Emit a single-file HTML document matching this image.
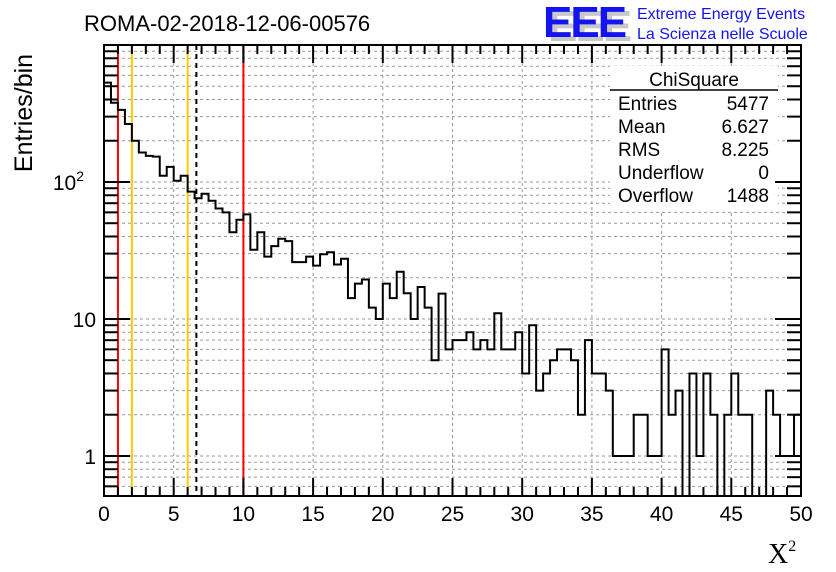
<!DOCTYPE html>
<html><head><meta charset="utf-8"><style>
body{margin:0;background:#fff;}
svg{display:block;font-family:"Liberation Sans",sans-serif;}
</style></head><body>
<svg id="chart" width="836" height="572" viewBox="0 0 836 572" xmlns="http://www.w3.org/2000/svg">
<rect width="836" height="572" fill="#fff"/>
<g id="grid"></g>
<g id="vlines"></g>
<path id="hist" fill="none" stroke="#000" stroke-width="2"/>
<g id="stats">
<rect x="610" y="66" width="168" height="144" fill="#fff"/>
<text x="694" y="86" font-size="19" text-anchor="middle">ChiSquare</text>
<line x1="610" y1="90" x2="778" y2="90" stroke="#000" stroke-width="1.5"/>
<g font-size="19">
<text x="618" y="110">Entries</text><text x="769" y="110" text-anchor="end">5477</text>
<text x="618" y="133">Mean</text><text x="769" y="133" text-anchor="end">6.627</text>
<text x="618" y="156">RMS</text><text x="769" y="156" text-anchor="end">8.225</text>
<text x="618" y="179">Underflow</text><text x="769" y="179" text-anchor="end">0</text>
<text x="618" y="202">Overflow</text><text x="769" y="202" text-anchor="end">1488</text>
</g></g>
<g id="axes"></g>
<rect x="104" y="45" width="697" height="451" fill="none" stroke="#000" stroke-width="2"/>
<text x="84" y="31" font-size="22">ROMA-02-2018-12-06-00576</text>
<g>
<text x="548" y="41" font-size="44" font-weight="bold" fill="#c8c8c8" letter-spacing="-2">EEE</text>
<text x="543" y="37" font-size="44" font-weight="bold" fill="#1414f0" letter-spacing="-2">EEE</text>
<text x="637" y="19" font-size="16" fill="#1414f0">Extreme Energy Events</text>
<text x="637" y="39" font-size="16" fill="#1414f0">La Scienza nelle Scuole</text>
</g>
<text transform="translate(32,113) rotate(-90)" font-size="25" text-anchor="middle">Entries/bin</text>
<text x="768" y="563" font-size="28" font-family="'Liberation Serif',serif">X<tspan font-size="16" dy="-12">2</tspan></text>
</svg>
<script>
const counts = [531,379,336,265,200,164,155,153,111,129,102,111,85,76,82,73,64,60,43,53,
58,32,43,28.5,34,38.5,37,26,26,28.5,24.5,29.7,30.7,25,27.5,14.2,18.1,19.4,12.1,10,
18.1,14.2,22.1,15.4,10,17.1,12.1,5,15.3,6,7,7,8,6,7,6,11,6,6,8,
4,9,3,4,5,6,6,5,2,7,4,4,3,1,1,1,2,2,1,1,
6,2,3,0,4,1,4,2,0,2,4,2,2,0,0,3,2,1,1,2];
const binWidth = 0.5;
const xTicks = [0,5,10,15,20,25,30,35,40,45,50];
const yTickValues = [1,10,100];
const yTickLabels = ["1","10","10^2"];
const cutValues = [1,10];
const cutYellow = [2,6];
const meanValue = 6.627;

const X0=104,X1=801,Y0=496,Y1=45,XMIN=0,XMAX=50,YMIN=0.51,YMAX=1000;
const sx=v=>X0+(v-XMIN)/(XMAX-XMIN)*(X1-X0);
const sy=v=>{ if(v<=0) return Y0; return Y0-(Math.log10(v)-Math.log10(YMIN))/(Math.log10(YMAX)-Math.log10(YMIN))*(Y0-Y1);};
const NS="http://www.w3.org/2000/svg";
function mk(tag,attrs,parent){const e=document.createElementNS(NS,tag);for(const k in attrs)e.setAttribute(k,attrs[k]);parent.appendChild(e);return e;}
const grid=document.getElementById('grid'), axes=document.getElementById('axes'), vl=document.getElementById('vlines');

for(const t of xTicks){ if(t===XMIN||t===XMAX) continue;
  const l=mk('line',{x1:sx(t),x2:sx(t),y1:Y1,y2:Y0,stroke:'#999','stroke-dasharray':'3,3'},grid);
   }
for(let d=0.1; d<=1000; d*=10){ for(let m=1;m<10;m++){ const v=Math.round(d*m*1000)/1000; if(v<YMIN||v>=YMAX) continue;
  const y=sy(v);
  const l=mk('line',{x1:X0,x2:X1,y1:y,y2:y,stroke:'#999','stroke-dasharray':'3,3'},grid);
   
  const major=(m===1); const len=major?26:14;
  const t1=mk('line',{x1:X0,x2:X0+len,y1:y,y2:y,stroke:'#000','stroke-width':2},axes);
   
  const t2=mk('line',{x1:X1,x2:X1-len,y1:y,y2:y,stroke:'#000','stroke-width':2},axes);
   
}}
for(let v=XMIN; v<=XMAX; v+=1){ const major=(v%5===0); const len=major?18:9; const x=sx(v);
  const a=mk('line',{x1:x,x2:x,y1:Y0,y2:Y0-len,stroke:'#000','stroke-width':2},axes);
   
  const b=mk('line',{x1:x,x2:x,y1:Y1,y2:Y1+len,stroke:'#000','stroke-width':2},axes);
   }
xTicks.forEach(t=>{ const e=mk('text',{x:sx(t),y:521,'font-size':21,'text-anchor':'middle'},axes); e.textContent=String(t);
   });
yTickValues.forEach((v,i)=>{ const lab=yTickLabels[i]; const e=mk('text',{x:96,y:sy(v)+8,'font-size':21,'text-anchor':'end'},axes);
  if(lab.includes('^')){ const [b,p]=lab.split('^'); e.textContent=b; e.setAttribute('x',84);
    const s=mk('tspan',{'font-size':14,dy:-9},e); s.textContent=p; }
  else e.textContent=lab;
   });
cutValues.forEach(v=>{const l=mk('line',{x1:sx(v),x2:sx(v),y1:Y1,y2:Y0,stroke:'#f00','stroke-width':2},vl);
   });
cutYellow.forEach(v=>{const l=mk('line',{x1:sx(v),x2:sx(v),y1:Y1,y2:Y0,stroke:'#fc0','stroke-width':2},vl);
   });
const ml=mk('line',{x1:sx(meanValue),x2:sx(meanValue),y1:Y1,y2:Y0,stroke:'#000','stroke-width':2,'stroke-dasharray':'5,4'},vl);
 
let d='M'+sx(0)+','+Y0;
counts.forEach((c,i)=>{ const y=sy(c); d+=' L'+sx(i*binWidth)+','+y+' L'+sx((i+1)*binWidth)+','+y; });
d+=' L'+sx(counts.length*binWidth)+','+Y0;
document.getElementById('hist').setAttribute('d',d);
</script>
</body></html>
